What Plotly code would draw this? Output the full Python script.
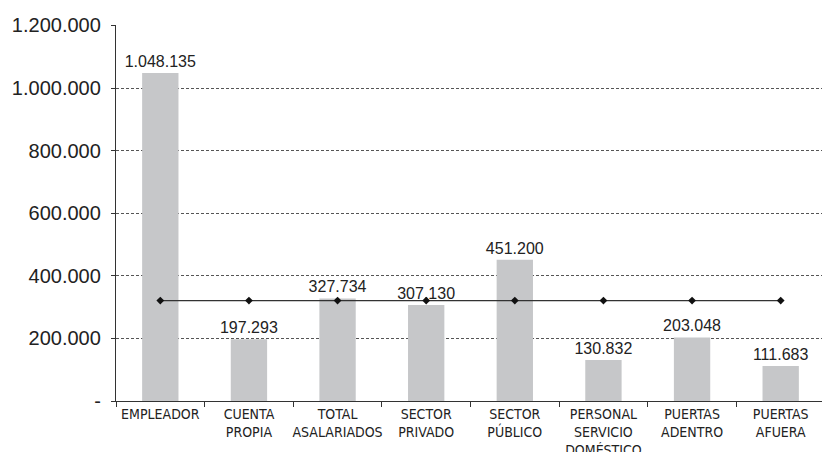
import plotly.graph_objects as go

categorias = ["EMPLEADOR", "CUENTA<br>PROPIA", "TOTAL<br>ASALARIADOS", "SECTOR<br>PRIVADO",
              "SECTOR<br>PÚBLICO", "PERSONAL<br>SERVICIO<br>DOMÉSTICO", "PUERTAS<br>ADENTRO",
              "PUERTAS<br>AFUERA"]
valores = [1048135, 197293, 327734, 307130, 451200, 130832, 203048, 111683]
referencia = [321000] * len(categorias)

y_ticks = [0, 200000, 400000, 600000, 800000, 1000000, 1200000]
y_labels = ["-", "200.000", "400.000", "600.000", "800.000", "1.000.000", "1.200.000"]

NARROW = "DejaVu Sans Condensed, Liberation Sans Narrow, Liberation Sans, sans-serif"


def fmt(v):
    return f"{v:,}".replace(",", ".")


fig = go.Figure()
fig.add_trace(go.Bar(
    x=categorias, y=valores,
    marker=dict(color="#c6c7c9", line=dict(width=0)),
    text=[fmt(v) for v in valores],
    textposition="outside",
    constraintext="none",
    cliponaxis=False,
    textfont=dict(family="Liberation Sans, Arial, sans-serif", size=16, color="#222222"),
))
fig.add_trace(go.Scatter(
    x=categorias, y=referencia, mode="lines+markers",
    line=dict(color="#333333", width=1.2),
    marker=dict(symbol="diamond", size=6, color="#111111"),
))

fig.update_layout(
    width=830, height=452,
    margin=dict(l=108, r=13, t=17, b=59, autoexpand=False),
    plot_bgcolor="white", paper_bgcolor="white",
    showlegend=False,
    bargap=0.59,
    font=dict(family="Liberation Sans, Arial, sans-serif", color="#222222"),
)
fig.update_yaxes(
    range=[0, 1201500], tickvals=y_ticks, ticktext=y_labels,
    showgrid=True, gridcolor="#555555", griddash="3px,2px", gridwidth=1,
    showline=True, linecolor="#333333", linewidth=1.3,
    ticks="outside", ticklen=4, tickcolor="#333333", ticklabelstandoff=6,
    tickfont=dict(family="Liberation Sans, Arial, sans-serif", size=20, color="#222222"),
    zeroline=False, automargin=False,
)
fig.update_xaxes(
    showline=True, linecolor="#333333", linewidth=1.3,
    ticks="outside", tickson="boundaries", ticklen=5, tickcolor="#333333",
    tickangle=0, automargin=False,
    tickfont=dict(family=NARROW, size=14, color="#222222"),
    showgrid=False,
)

fig.write_html("out.html")
